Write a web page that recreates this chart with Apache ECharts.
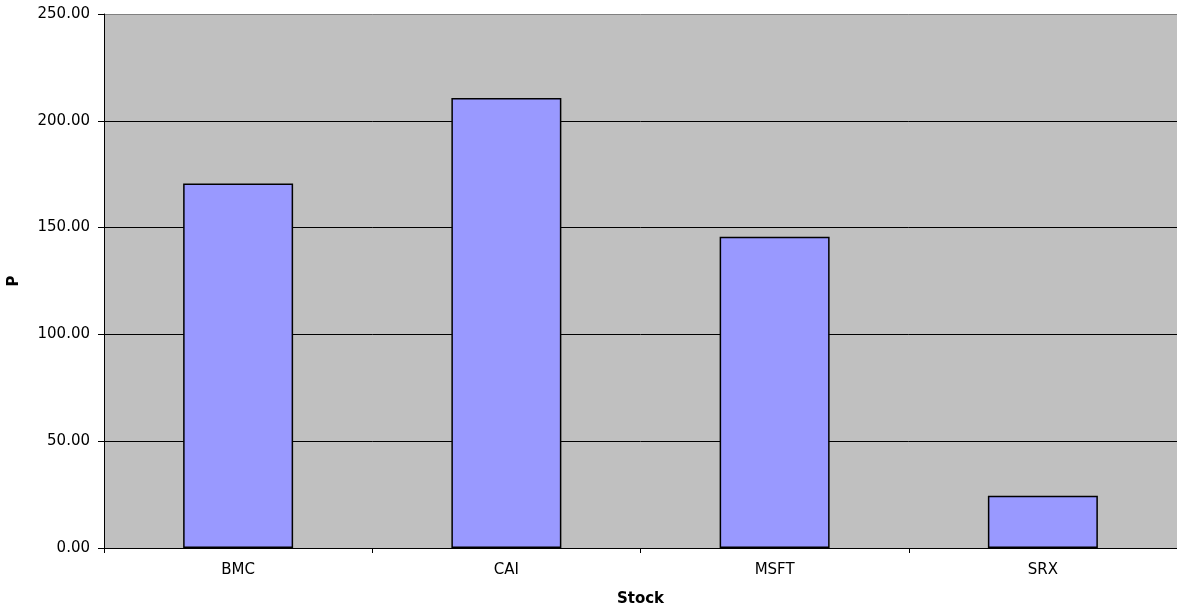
<!DOCTYPE html>
<html>
<head>
<meta charset="utf-8">
<script src="https://cdn.jsdelivr.net/npm/echarts@6/dist/echarts.min.js"></script>
<style>
html,body{margin:0;padding:0;background:#fff;}
#chart{width:1177px;height:610px;}
</style>
</head>
<body>
<div id="chart"></div>
<script>
// Stock categories and their P values
const stocks = ['BMC', 'CAI', 'MSFT', 'SRX'];
const pValues = [170.7, 210.7, 145.7, 24.5];

const chart = echarts.init(document.getElementById('chart'));
const font = '"DejaVu Sans", "Liberation Sans", sans-serif';

chart.setOption({
  animation: false,
  grid: {
    left: 104, right: 0, top: 14, bottom: 62,
    outerBoundsMode: 'none',
    containLabel: false,
    show: true, backgroundColor: '#C0C0C0', borderWidth: 0
  },
  xAxis: {
    type: 'category',
    data: stocks,
    name: 'Stock',
    nameLocation: 'middle',
    nameGap: 44,
    nameTextStyle: { fontFamily: font, fontSize: 15, fontWeight: 'bold', color: '#000' },
    axisLine: { lineStyle: { color: '#000', width: 1 } },
    axisTick: { show: true, length: 5, lineStyle: { color: '#000' } },
    axisLabel: { fontFamily: font, fontSize: 15, color: '#000', margin: 15 }
  },
  yAxis: {
    type: 'value',
    min: 0, max: 250, interval: 50,
    name: 'P',
    nameLocation: 'middle',
    nameGap: 82,
    nameTextStyle: { fontFamily: font, fontSize: 15, fontWeight: 'bold', color: '#000' },
    axisLine: { show: true, lineStyle: { color: '#000', width: 1 } },
    axisTick: { show: true, length: 6, lineStyle: { color: '#000' } },
    axisLabel: { fontFamily: font, fontSize: 15, color: '#000', margin: 14,
      formatter: v => v.toFixed(2) },
    splitLine: { show: true, lineStyle: {
      color: ['#000', '#000', '#000', '#000', '#000', '#808080'], width: 1 } }
  },
  series: [{
    type: 'bar',
    data: pValues,
    barCategoryGap: '59%',
    itemStyle: { color: '#9999FF', borderColor: '#000', borderWidth: 1.5 }
  }]
});
</script>
</body>
</html>
